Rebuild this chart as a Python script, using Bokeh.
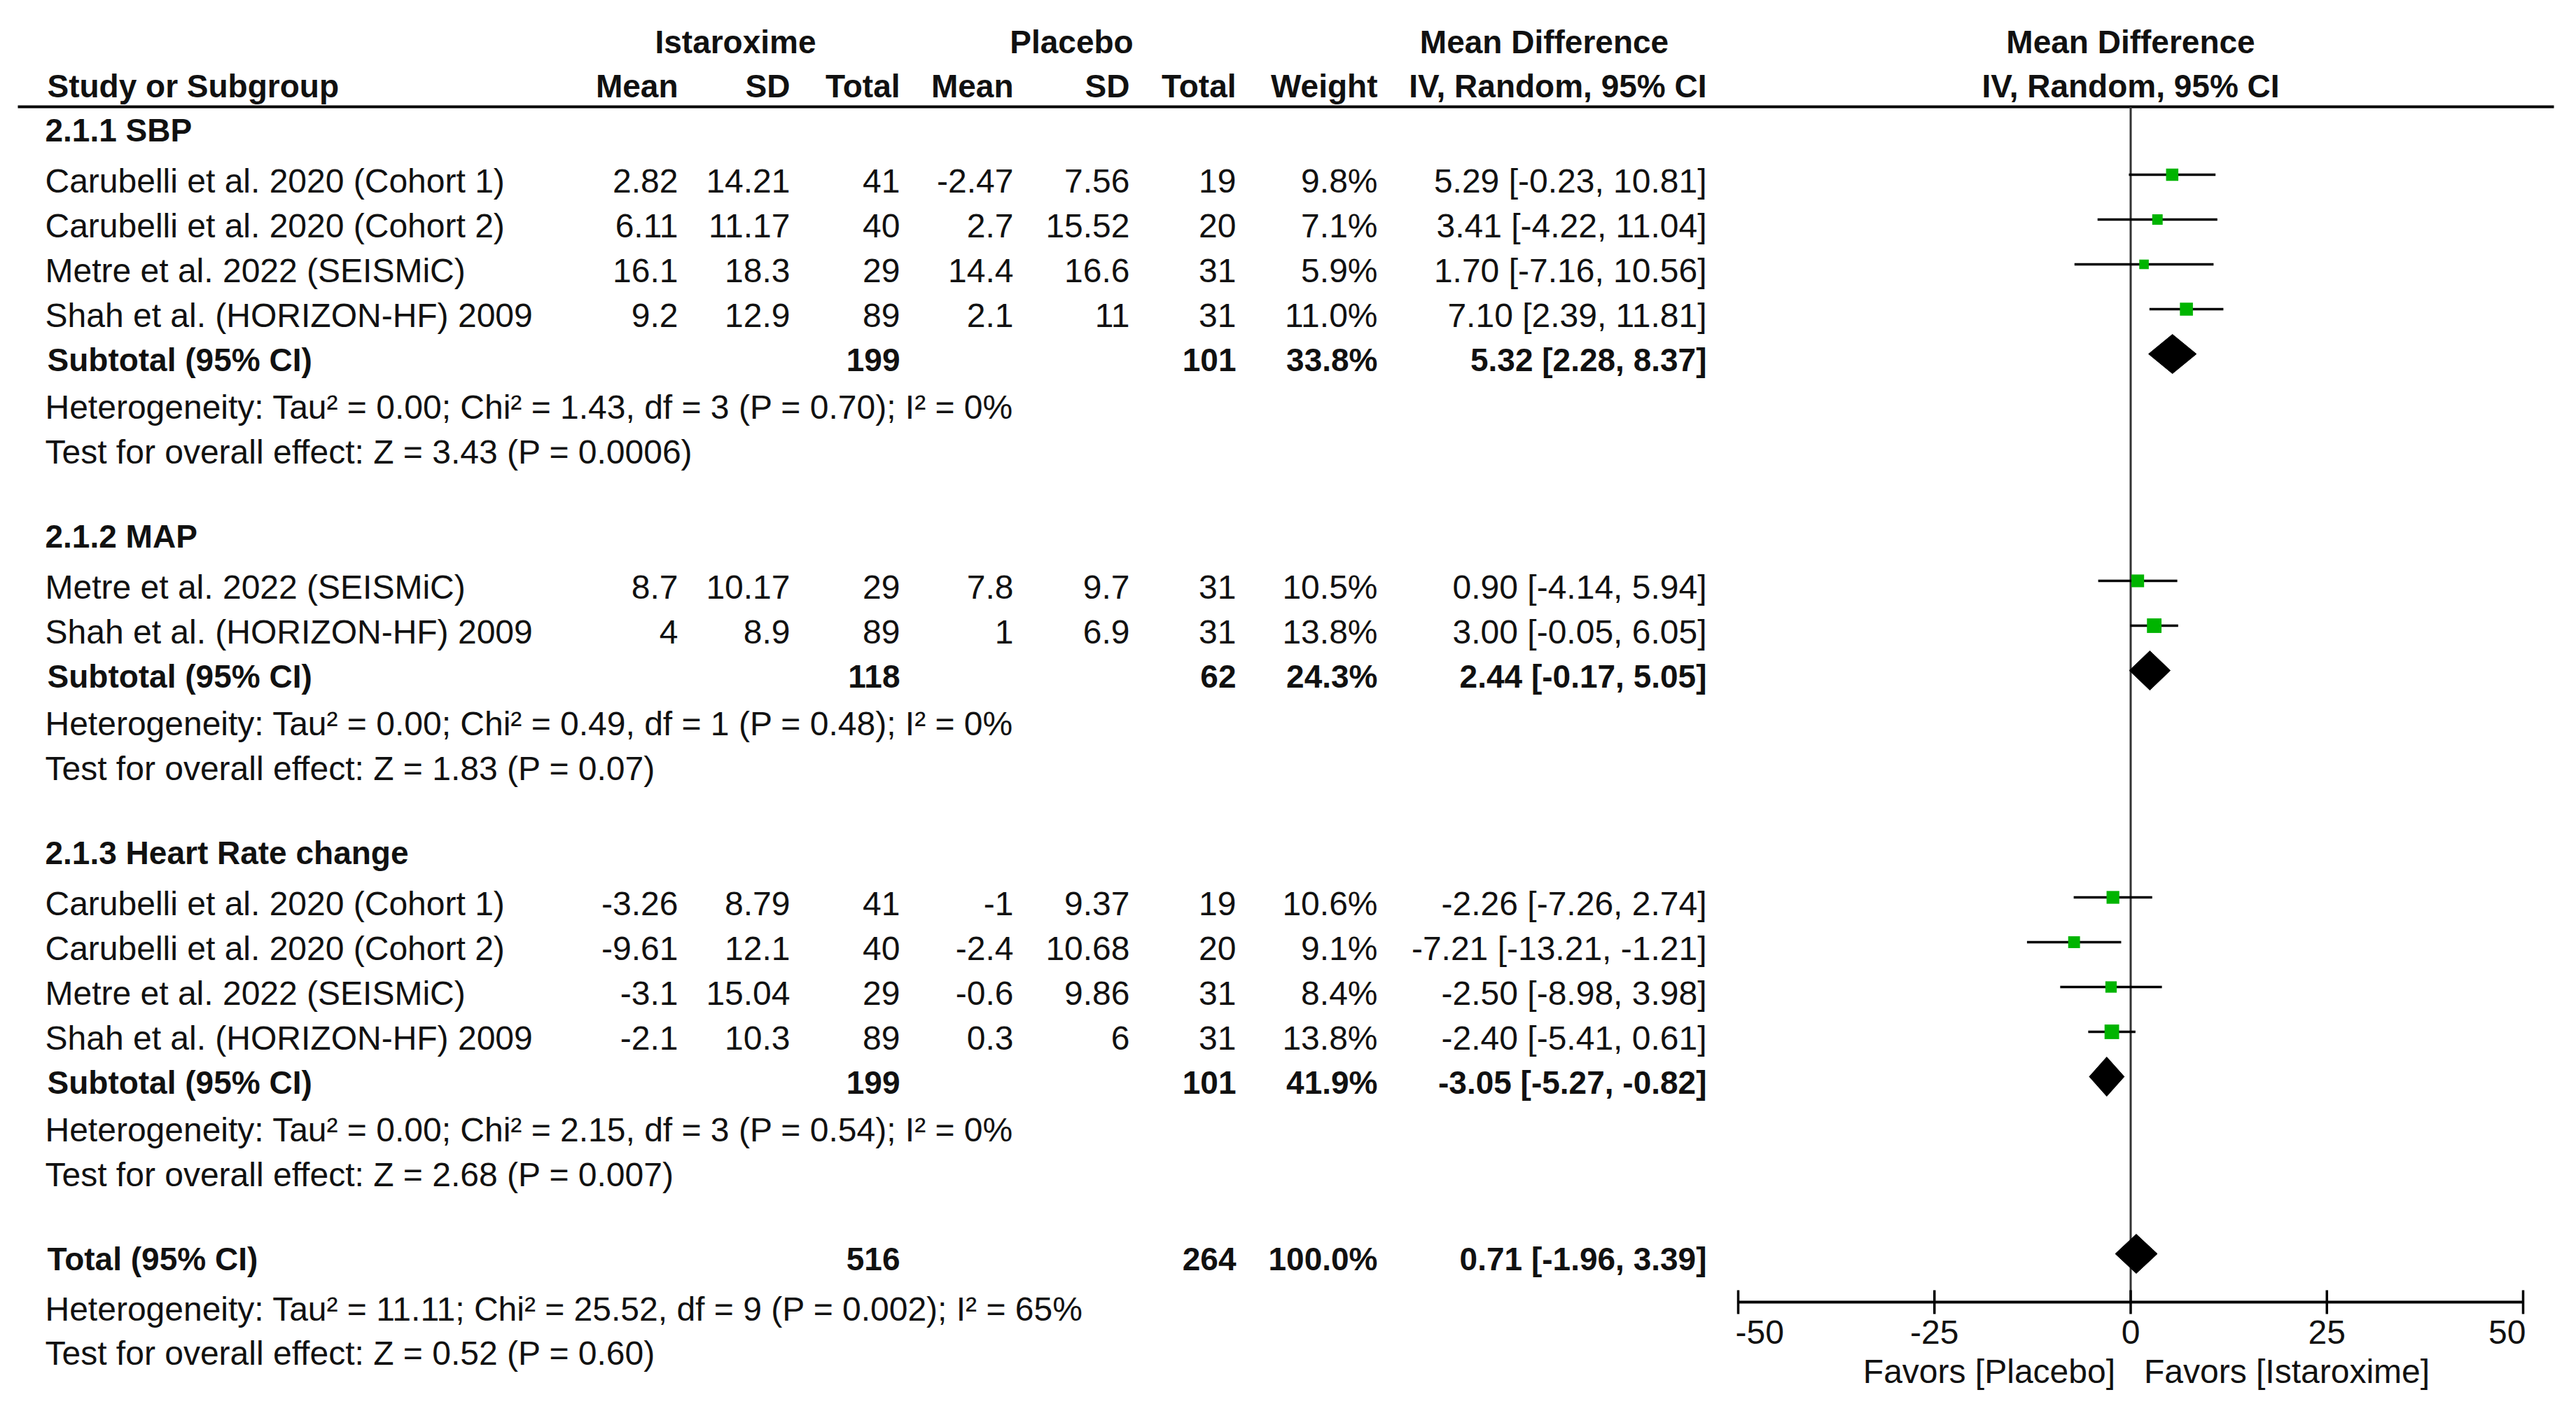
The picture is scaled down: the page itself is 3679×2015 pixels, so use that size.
import math
from bokeh.plotting import figure
from bokeh.models import Range1d
from bokeh.embed import file_html
from bokeh.resources import INLINE
from bokeh.core.properties import value

# ---------------- data ----------------
group_labels = ["2.1.1 SBP", "2.1.2 MAP", "2.1.3 Heart Rate change"]

study_names = [
    "Carubelli et al. 2020 (Cohort 1)",
    "Carubelli et al. 2020 (Cohort 2)",
    "Metre et al. 2022 (SEISMiC)",
    "Shah et al. (HORIZON-HF) 2009",
    "Metre et al. 2022 (SEISMiC)",
    "Shah et al. (HORIZON-HF) 2009",
    "Carubelli et al. 2020 (Cohort 1)",
    "Carubelli et al. 2020 (Cohort 2)",
    "Metre et al. 2022 (SEISMiC)",
    "Shah et al. (HORIZON-HF) 2009",
]
study_group = [0, 0, 0, 0, 1, 1, 2, 2, 2, 2]
ist_mean = [2.82, 6.11, 16.1, 9.2, 8.7, 4, -3.26, -9.61, -3.1, -2.1]
ist_sd = [14.21, 11.17, 18.3, 12.9, 10.17, 8.9, 8.79, 12.1, 15.04, 10.3]
ist_n = [41, 40, 29, 89, 29, 89, 41, 40, 29, 89]
pla_mean = [-2.47, 2.7, 14.4, 2.1, 7.8, 1, -1, -2.4, -0.6, 0.3]
pla_sd = [7.56, 15.52, 16.6, 11, 9.7, 6.9, 9.37, 10.68, 9.86, 6]
pla_n = [19, 20, 31, 31, 31, 31, 19, 20, 31, 31]
weight = [9.8, 7.1, 5.9, 11.0, 10.5, 13.8, 10.6, 9.1, 8.4, 13.8]
md = [5.29, 3.41, 1.70, 7.10, 0.90, 3.00, -2.26, -7.21, -2.50, -2.40]
ci_lo = [-0.23, -4.22, -7.16, 2.39, -4.14, -0.05, -7.26, -13.21, -8.98, -5.41]
ci_hi = [10.81, 11.04, 10.56, 11.81, 5.94, 6.05, 2.74, -1.21, 3.98, 0.61]

sub_ist_n = [199, 118, 199]
sub_pla_n = [101, 62, 101]
sub_weight = [33.8, 24.3, 41.9]
sub_md = [5.32, 2.44, -3.05]
sub_lo = [2.28, -0.17, -5.27]
sub_hi = [8.37, 5.05, -0.82]
sub_tau2 = ["0.00", "0.00", "0.00"]
sub_chi2 = ["1.43", "0.49", "2.15"]
sub_df = [3, 1, 3]
sub_p_het = ["0.70", "0.48", "0.54"]
sub_i2 = [0, 0, 0]
sub_z = ["3.43", "1.83", "2.68"]
sub_p_z = ["0.0006", "0.07", "0.007"]

total_ist_n = 516
total_pla_n = 264
total_weight = 100.0
total_md = 0.71
total_lo = -1.96
total_hi = 3.39
total_tau2 = "11.11"
total_chi2 = "25.52"
total_df = 9
total_p_het = "0.002"
total_i2 = 65
total_z = "0.52"
total_p_z = "0.60"

axis_ticks = [-50, -25, 0, 25, 50]
favors_left = "Favors [Placebo]"
favors_right = "Favors [Istaroxime]"

# ---------------- layout ----------------
W, H = 3660, 1995
OX, OY = 0, 0                      # data coords equal page pixels
ZERO_PX, PX_PER_UNIT = 3042.5, 11.21
FONT = value("Liberation Sans")
FS, FSB = "48px", "46px"
INK = "#111111"
TEXT_DY = 15                       # renderer places alphabetic baseline slightly low

p = figure(width=W, height=H, x_range=Range1d(OX, OX + W), y_range=Range1d(OY + H, OY),
           output_backend="svg", toolbar_location=None,
           x_axis_location=None, y_axis_location=None, min_border=0)
p.outline_line_color = None
p.grid.grid_line_color = None
p.background_fill_color = "white"
p.border_fill_color = "white"
p.extra_x_ranges = {"md": Range1d((OX - ZERO_PX) / PX_PER_UNIT, (OX + W - ZERO_PX) / PX_PER_UNIT)}


def txt(x, ys, texts, align="left", bold=False, size=None, rng=None, x_offset=0):
    n = len(texts)
    kw = dict(x=x if isinstance(x, list) else [x] * n, y=[v - TEXT_DY for v in ys], text=texts,
              text_align=align, text_baseline="alphabetic", text_font=FONT,
              text_font_size=size or (FSB if bold else FS),
              text_font_style="bold" if bold else "normal", text_color=INK,
              x_offset=x_offset)
    if rng:
        kw["x_range_name"] = rng
    p.text(**kw)


def fmt(v):
    return f"{v:g}"


# row baselines
head_y, study_y, sub_y, het_y, test_y = [], [], [], [], []
y = 200
for g in range(len(group_labels)):
    head_y.append(y)
    idx = [i for i in range(len(study_names)) if study_group[i] == g]
    y += 73
    for k, i in enumerate(idx):
        if k > 0:
            y += 64
        study_y.append(y)
    y += 63
    sub_y.append(y)
    y += 68
    het_y.append(y)
    y += 64
    test_y.append(y)
    y += 120
total_y = y
total_het_y = total_y + 72
total_test_y = total_het_y + 63

# column right edges
C_IM, C_ISD, C_IN = 968, 1128, 1285
C_PM, C_PSD, C_PN = 1447, 1613, 1765
C_W, C_CI = 1967, 2437
X_LEFT, X_LEFT_B = 64, 67

# header
txt(1050, [74], ["Istaroxime"], "center", True)
txt(1530, [74], ["Placebo"], "center", True)
txt(2205, [74], ["Mean Difference"], "center", True)
txt(0, [74], ["Mean Difference"], "center", True, rng="md")
txt(X_LEFT_B, [137], ["Study or Subgroup"], "left", True)
for cx, lab in [(C_IM, "Mean"), (C_ISD, "SD"), (C_IN, "Total"), (C_PM, "Mean"),
                (C_PSD, "SD"), (C_PN, "Total"), (C_W, "Weight"), (C_CI, "IV, Random, 95% CI")]:
    txt(cx, [137], [lab], "right", True)
txt(0, [137], ["IV, Random, 95% CI"], "center", True, rng="md")
p.segment(x0=[25], x1=[3647], y0=[152], y1=[152], line_color="black", line_width=4)

# group headings
txt(X_LEFT, head_y, group_labels, "left", True)

# study rows
txt(X_LEFT, study_y, study_names)
txt(C_IM, study_y, [fmt(v) for v in ist_mean], "right")
txt(C_ISD, study_y, [fmt(v) for v in ist_sd], "right")
txt(C_IN, study_y, [str(v) for v in ist_n], "right")
txt(C_PM, study_y, [fmt(v) for v in pla_mean], "right")
txt(C_PSD, study_y, [fmt(v) for v in pla_sd], "right")
txt(C_PN, study_y, [str(v) for v in pla_n], "right")
txt(C_W, study_y, [f"{v:.1f}%" for v in weight], "right")
txt(C_CI, study_y, [f"{m:.2f} [{lo:.2f}, {hi:.2f}]" for m, lo, hi in zip(md, ci_lo, ci_hi)], "right")

# subtotal rows
txt(X_LEFT_B, sub_y, ["Subtotal (95% CI)"] * len(sub_y), "left", True)
txt(C_IN, sub_y, [str(v) for v in sub_ist_n], "right", True)
txt(C_PN, sub_y, [str(v) for v in sub_pla_n], "right", True)
txt(C_W, sub_y, [f"{v:.1f}%" for v in sub_weight], "right", True)
txt(C_CI, sub_y, [f"{m:.2f} [{lo:.2f}, {hi:.2f}]" for m, lo, hi in zip(sub_md, sub_lo, sub_hi)], "right", True)
txt(X_LEFT, het_y, [f"Heterogeneity: Tau\u00b2 = {t}; Chi\u00b2 = {c}, df = {d} (P = {pp}); I\u00b2 = {i}%"
                    for t, c, d, pp, i in zip(sub_tau2, sub_chi2, sub_df, sub_p_het, sub_i2)])
txt(X_LEFT, test_y, [f"Test for overall effect: Z = {z} (P = {pp})" for z, pp in zip(sub_z, sub_p_z)])

# total rows
txt(X_LEFT_B, [total_y], ["Total (95% CI)"], "left", True)
txt(C_IN, [total_y], [str(total_ist_n)], "right", True)
txt(C_PN, [total_y], [str(total_pla_n)], "right", True)
txt(C_W, [total_y], [f"{total_weight:.1f}%"], "right", True)
txt(C_CI, [total_y], [f"{total_md:.2f} [{total_lo:.2f}, {total_hi:.2f}]"], "right", True)
txt(X_LEFT, [total_het_y], [f"Heterogeneity: Tau\u00b2 = {total_tau2}; Chi\u00b2 = {total_chi2}, df = {total_df} "
                            f"(P = {total_p_het}); I\u00b2 = {total_i2}%"])
txt(X_LEFT, [total_test_y], [f"Test for overall effect: Z = {total_z} (P = {total_p_z})"])

# ---------------- forest plot ----------------
AXIS_Y = 1859
MARK_OFF = 24
p.segment(x0=[0], x1=[0], y0=[152], y1=[AXIS_Y], line_color="#333333", line_width=3, x_range_name="md")

sy = [v - MARK_OFF for v in study_y]
p.segment(x0=ci_lo, x1=ci_hi, y0=sy, y1=sy, line_color="black", line_width=3.5, x_range_name="md")
p.scatter(x=md, y=sy, marker="square", size=[5.6 * math.sqrt(w) for w in weight],
          fill_color="#00b400", line_color=None, x_range_name="md")

d_md = sub_md + [total_md]
d_lo = sub_lo + [total_lo]
d_hi = sub_hi + [total_hi]
d_y = [v - 23 for v in sub_y] + [total_y - 22]
HALF = 28
p.patches(xs=[[lo, m, hi, m] for m, lo, hi in zip(d_md, d_lo, d_hi)],
          ys=[[c, c - HALF, c, c + HALF] for c in d_y],
          fill_color="black", line_color="black", line_width=1, x_range_name="md")

# axis
p.segment(x0=[axis_ticks[0]], x1=[axis_ticks[-1]], y0=[AXIS_Y], y1=[AXIS_Y],
          line_color="black", line_width=4, x_range_name="md")
p.segment(x0=axis_ticks, x1=axis_ticks, y0=[AXIS_Y - 17] * len(axis_ticks), y1=[AXIS_Y + 17] * len(axis_ticks),
          line_color="black", line_width=3.5, x_range_name="md")
for k, t in enumerate(axis_ticks):
    al = "left" if k == 0 else ("right" if k == len(axis_ticks) - 1 else "center")
    txt([t], [1917], [str(t)], al, rng="md", x_offset=(-4 if k == 0 else (4 if k == len(axis_ticks) - 1 else 0)))
txt([0], [1973], [favors_left], "right", rng="md", x_offset=-22)
txt([0], [1973], [favors_right], "left", rng="md", x_offset=19)

open("out.html", "w").write(file_html(p, INLINE))
